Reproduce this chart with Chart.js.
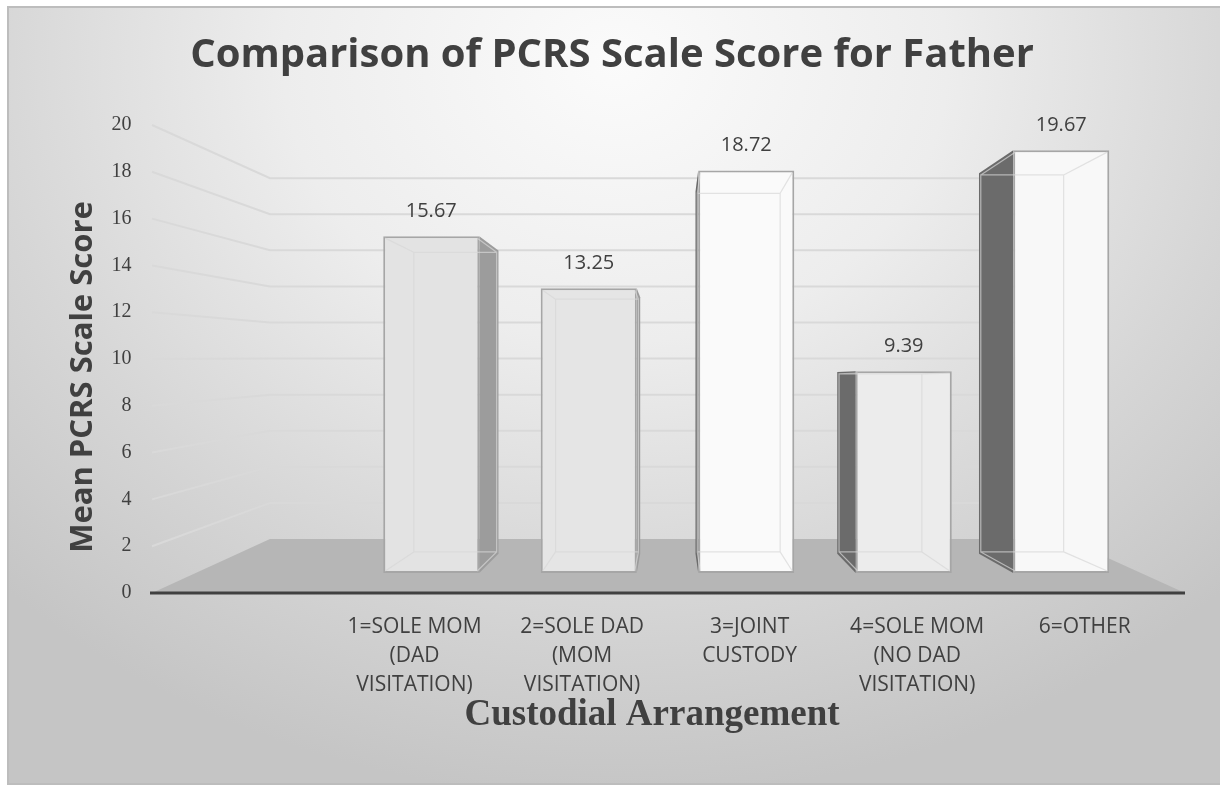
<!DOCTYPE html>
<html>
<head>
<meta charset="utf-8">
<script src="https://cdn.jsdelivr.net/npm/chart.js@4.4.0/dist/chart.umd.min.js"></script>
<style>
  html, body { margin: 0; padding: 0; background: #fff; }
  #frame {
    position: absolute; left: 7px; top: 6px; width: 1213px; height: 775px;
    border: 2px solid #bdbdbd; border-right: none;
    background: radial-gradient(ellipse 72% 95% at 50% 7%, #fbfbfb 0%, #ededed 38%, #d6d6d6 72%, #c5c5c5 100%);
  }
  #wrap { position: absolute; left: 0; top: 0; width: 1220px; height: 785px; }
</style>
</head>
<body>
<div id="frame"></div>
<div id="wrap"><canvas id="chart" width="1220" height="785"></canvas></div>
<script>
// data
const chartTitle = 'Comparison of PCRS Scale Score for Father';
const yTitle = 'Mean PCRS Scale Score';
const xTitle = 'Custodial Arrangement';
const categories = [
  ['1=SOLE MOM', '(DAD', 'VISITATION)'],
  ['2=SOLE DAD', '(MOM', 'VISITATION)'],
  ['3=JOINT', 'CUSTODY'],
  ['4=SOLE MOM', '(NO DAD', 'VISITATION)'],
  ['6=OTHER']
];
const meanScores = [15.67, 13.25, 18.72, 9.39, 19.67];
const yTickValues = [0, 2, 4, 6, 8, 10, 12, 14, 16, 18, 20];

// fake 3d look (Excel style box bars on a floor with a back wall)
const TEXT = '#404040';
const faceColors = ['#e3e3e3', '#e5e5e5', '#fafafa', '#ececec', '#f8f8f8'];
const FLOOR = { frontLeft: 152, frontRight: 1185, backLeft: 270, backRight: 1066, depth: 54, shrink: 0.771 };
const VP = { x: 671, y: 380 };   // vanishing point for the bar sides
const DEPTH_K = 0.1;
const BAR_MIN = -0.93, BAR_MAX = 20.84;   // bar scale sits a bit behind the front tick scale
const LAB_MIN = -0.37, LAB_MAX = 4.33;    // category labels sit on the (wider) front edge

const toBack = (px, py) => [px + (VP.x - px) * DEPTH_K, py + (VP.y - py) * DEPTH_K];

const scene3d = {
  id: 'scene3d',
  beforeDatasetsDraw(chart) {
    const { ctx } = chart;
    const ys = chart.scales.y;
    const y0 = ys.getPixelForValue(0);
    const backY = v => y0 - FLOOR.depth - (y0 - ys.getPixelForValue(v)) * FLOOR.shrink;
    ctx.save();
    // back wall grid
    ctx.strokeStyle = '#d9d9d9';
    ctx.lineWidth = 2;
    yTickValues.forEach(v => {
      if (v === 0) return;
      ctx.beginPath();
      ctx.moveTo(FLOOR.frontLeft, ys.getPixelForValue(v));
      ctx.lineTo(FLOOR.backLeft, backY(v));
      ctx.lineTo(FLOOR.backRight, backY(v));
      ctx.stroke();
    });
    // floor
    ctx.fillStyle = '#b6b6b6';
    ctx.beginPath();
    ctx.moveTo(FLOOR.frontLeft, y0);
    ctx.lineTo(FLOOR.backLeft, backY(0));
    ctx.lineTo(FLOOR.backRight, backY(0));
    ctx.lineTo(FLOOR.frontRight, y0);
    ctx.closePath();
    ctx.fill();
    // axis line
    ctx.strokeStyle = TEXT;
    ctx.lineWidth = 3;
    ctx.beginPath();
    ctx.moveTo(FLOOR.frontLeft - 2, y0);
    ctx.lineTo(FLOOR.frontRight, y0);
    ctx.stroke();
    // bar side faces
    chart.getDatasetMeta(0).data.forEach(bar => {
      const { x, y, base, width } = bar.getProps(['x', 'y', 'base', 'width'], true);
      const edge = x < VP.x ? x + width / 2 : x - width / 2;
      const [bx1, by1] = toBack(edge, y);
      const [bx2, by2] = toBack(edge, base);
      ctx.fillStyle = x < VP.x ? '#9c9c9c' : '#6b6b6b';
      ctx.beginPath();
      ctx.moveTo(edge, y);
      ctx.lineTo(bx1, by1);
      ctx.lineTo(bx2, by2);
      ctx.lineTo(edge, base);
      ctx.closePath();
      ctx.fill();
    });
    ctx.restore();
  },
  afterDatasetsDraw(chart) {
    const { ctx } = chart;
    ctx.save();
    chart.getDatasetMeta(0).data.forEach((bar, i) => {
      const { x, y, base, width } = bar.getProps(['x', 'y', 'base', 'width'], true);
      const l = x - width / 2 + 2, r = x + width / 2 - 2;
      const front = [[l, y + 2], [r, y + 2], [r, base - 2], [l, base - 2]];
      const back = front.map(p => toBack(p[0], p[1]));
      // see-through back edges
      ctx.strokeStyle = 'rgba(215,215,215,0.7)';
      ctx.lineWidth = 1.2;
      ctx.beginPath();
      back.forEach((p, k) => k ? ctx.lineTo(p[0], p[1]) : ctx.moveTo(p[0], p[1]));
      ctx.closePath();
      front.forEach((p, k) => { ctx.moveTo(p[0], p[1]); ctx.lineTo(back[k][0], back[k][1]); });
      ctx.stroke();
      // value label
      ctx.fillStyle = TEXT;
      ctx.font = '20px "Open Sans"';
      ctx.textAlign = 'center';
      ctx.textBaseline = 'middle';
      ctx.fillText(meanScores[i].toFixed(2), x, y - 25);
    });
    ctx.restore();
  },
  afterDraw(chart) {
    const { ctx } = chart;
    ctx.save();
    ctx.fillStyle = TEXT;
    ctx.textAlign = 'center';
    ctx.textBaseline = 'middle';
    ctx.translate(83, 377);
    ctx.rotate(-Math.PI / 2);
    ctx.font = 'bold 31px "Open Sans"';
    ctx.fillText(yTitle, 0, 0);
    ctx.restore();
    ctx.save();
    ctx.fillStyle = TEXT;
    ctx.textAlign = 'center';
    ctx.textBaseline = 'middle';
    ctx.font = 'bold 37px "Liberation Serif"';
    ctx.fillText(xTitle, 652, 715);
    ctx.restore();
  }
};

Chart.defaults.font.family = '"Open Sans"';
Chart.defaults.color = TEXT;

const ctx = document.getElementById('chart').getContext('2d');
const chart = new Chart(ctx, {
  type: 'bar',
  data: {
    labels: categories,
    datasets: [{
      label: 'Mean PCRS Scale Score',
      data: meanScores,
      yAxisID: 'yBar',
      backgroundColor: faceColors,
      borderColor: '#a6a6a6',
      borderWidth: 2,
      borderSkipped: false,
      barPercentage: 0.61,
      categoryPercentage: 1.0
    }]
  },
  options: {
    responsive: false,
    animation: false,
    devicePixelRatio: 1,
    layout: { padding: { left: 84, right: 80, top: 0, bottom: 82 } },
    plugins: {
      legend: { display: false },
      tooltip: { enabled: false },
      title: {
        display: true,
        text: chartTitle,
        color: TEXT,
        font: { size: 40, weight: 'bold', lineHeight: 1.2 },
        padding: { top: 32, bottom: 45 }
      }
    },
    scales: {
      x: { display: false, offset: true },
      xLab: {
        type: 'linear',
        position: 'bottom',
        bounds: 'data',
        offset: false,
        min: LAB_MIN,
        max: LAB_MAX,
        grid: { display: false, drawTicks: false, offset: false },
        border: { display: false },
        ticks: {
          autoSkip: false,
          maxRotation: 0,
          padding: 19,
          color: TEXT,
          font: { size: 21, lineHeight: 1.4 },
          callback: v => categories[v] || ''
        },
        afterBuildTicks: s => { s.ticks = categories.map((c, i) => ({ value: i })); },
        afterFit: s => { s.height = 110; }
      },
      y: {
        position: 'left',
        min: yTickValues[0],
        max: yTickValues[yTickValues.length - 1],
        grid: { display: false, drawTicks: false },
        border: { display: false },
        ticks: {
          padding: 221,
          color: TEXT,
          font: { family: '"Liberation Serif"', size: 20 }
        },
        afterBuildTicks: s => { s.ticks = yTickValues.map(v => ({ value: v })); },
        afterFit: s => {
          // tick padding is only meant to push labels left, not to eat vertical room
          s.width = 268.5;
          s.paddingTop = 10;
          s.paddingBottom = 10;
        }
      },
      yBar: { display: false, min: BAR_MIN, max: BAR_MAX }
    }
  },
  plugins: [scene3d]
});
</script>
</body>
</html>
